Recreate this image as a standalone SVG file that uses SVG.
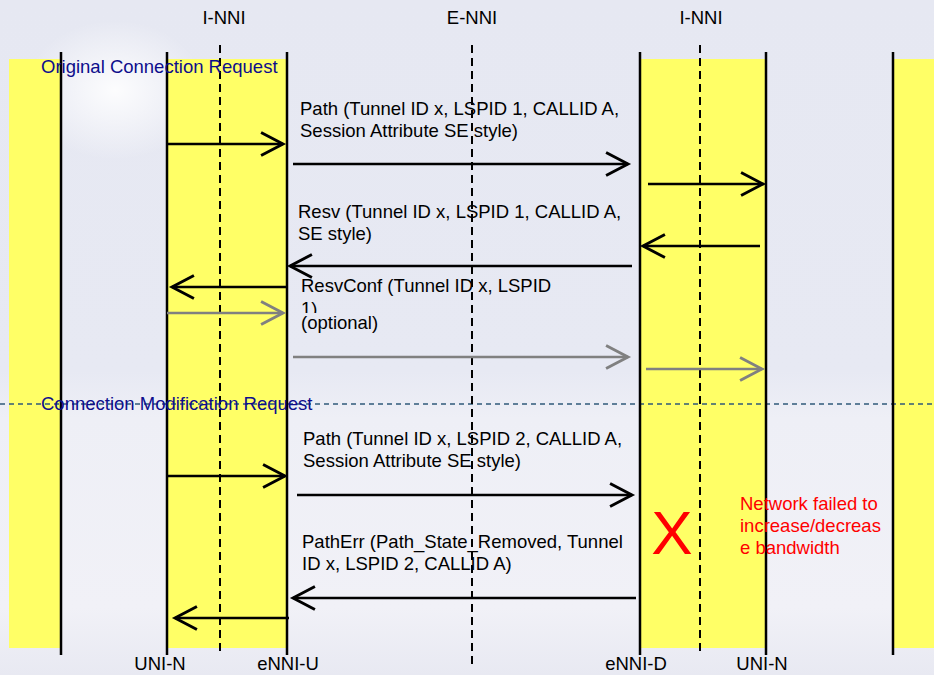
<svg xmlns="http://www.w3.org/2000/svg" width="934" height="675" viewBox="0 0 934 675">
<defs>
<style>
text{font-family:"Liberation Sans",Arial,sans-serif;font-size:18.5px;fill:#000}
.sec{fill:#0d0d8c;font-size:18.5px}
.red{fill:#ff0000}
.life{stroke:#000;stroke-width:2.5}
.dash{stroke:#000;stroke-width:2;stroke-dasharray:8,5}
.msg{stroke:#000;stroke-width:2.5;fill:none;marker-end:url(#ah)}
.opt{stroke:#808080;stroke-width:2.5;fill:none;marker-end:url(#ahg)}
.band{fill:#ffff66}
</style>
<marker id="ah" markerUnits="userSpaceOnUse" markerWidth="30" markerHeight="30" viewBox="-22 -13 26 26" refX="0" refY="0" orient="auto">
<path d="M-19,-10 L0,0 L-19,10" fill="none" stroke="#000" stroke-width="2.5"/>
</marker>
<marker id="ahg" markerUnits="userSpaceOnUse" markerWidth="30" markerHeight="30" viewBox="-22 -13 26 26" refX="0" refY="0" orient="auto">
<path d="M-19,-10 L0,0 L-19,10" fill="none" stroke="#808080" stroke-width="2.5"/>
</marker>
<linearGradient id="bg" x1="0" y1="0" x2="0" y2="1">
<stop offset="0" stop-color="#e6e8f2"/>
<stop offset="0.55" stop-color="#e7e9f3"/>
<stop offset="0.62" stop-color="#eeeff6"/>
<stop offset="0.9" stop-color="#f1f1f7"/>
<stop offset="1" stop-color="#e8e9f2"/>
</linearGradient>
<radialGradient id="glow" cx="0.5" cy="0.5" r="0.5">
<stop offset="0" stop-color="#ffffff" stop-opacity="0.9"/>
<stop offset="1" stop-color="#ffffff" stop-opacity="0"/>
</radialGradient>
<clipPath id="clip1"><rect x="290" y="290" width="300" height="23"/></clipPath>
</defs>

<rect x="0" y="0" width="934" height="675" fill="url(#bg)"/>
<ellipse cx="115" cy="90" rx="90" ry="70" fill="url(#glow)"/>

<g id="bands">
<rect class="band" x="9" y="59" width="52" height="589"/>
<rect class="band" x="167" y="59" width="120" height="589"/>
<rect class="band" x="640" y="59" width="126" height="589"/>
<rect class="band" x="893" y="59" width="41" height="589"/>
</g>

<g id="section-divider">
<line x1="0" y1="404" x2="934" y2="404" stroke="#2f5a7a" stroke-width="1.5" stroke-dasharray="5,4"/>
</g>

<g id="lifelines">
<g id="life-left-edge"><line class="life" x1="61" y1="52" x2="61" y2="655"/></g>
<g id="life-uni-n-left"><line class="life" x1="167" y1="52" x2="167" y2="655"/><text x="160" y="670" text-anchor="middle">UNI-N</text></g>
<g id="inni-left"><line class="dash" x1="220" y1="45" x2="220" y2="655"/><text x="224" y="24" text-anchor="middle">I-NNI</text></g>
<g id="life-ennI-u"><line class="life" x1="287" y1="52" x2="287" y2="655"/><text x="288" y="670" text-anchor="middle">eNNI-U</text></g>
<g id="enni"><line class="dash" x1="472" y1="45" x2="472" y2="665"/><text x="472" y="24" text-anchor="middle">E-NNI</text></g>
<g id="life-enni-d"><line class="life" x1="640" y1="52" x2="640" y2="655"/><text x="636" y="670" text-anchor="middle">eNNI-D</text></g>
<g id="inni-right"><line class="dash" x1="700" y1="45" x2="700" y2="655"/><text x="701" y="24" text-anchor="middle">I-NNI</text></g>
<g id="life-uni-n-right"><line class="life" x1="766" y1="52" x2="766" y2="655"/><text x="762" y="670" text-anchor="middle">UNI-N</text></g>
<g id="life-right-edge"><line class="life" x1="893" y1="52" x2="893" y2="655"/></g>
</g>

<g id="connectors">
<line class="msg" x1="167" y1="144" x2="283" y2="144"/>
<line class="msg" x1="293" y1="164" x2="628" y2="164"/>
<line class="msg" x1="648" y1="184" x2="763" y2="184"/>
<line class="msg" x1="760" y1="246" x2="643" y2="246"/>
<line class="msg" x1="632" y1="266" x2="290" y2="266"/>
<line class="msg" x1="287" y1="287" x2="172" y2="287"/>
<line class="opt" x1="167" y1="313" x2="283" y2="313"/>
<line class="opt" x1="293" y1="357" x2="628" y2="357"/>
<line class="opt" x1="646" y1="369" x2="762" y2="369"/>
<line class="msg" x1="167" y1="476" x2="285" y2="476"/>
<line class="msg" x1="297" y1="495" x2="632" y2="495"/>
<line class="msg" x1="636" y1="598" x2="293" y2="598"/>
<line class="msg" x1="289" y1="618" x2="175" y2="618"/>
</g>

<g id="labels">
<text class="sec" x="41" y="73">Original Connection Request</text>
<text class="sec" x="41" y="410">Connection Modification Request</text>
<text x="300" y="115">Path (Tunnel ID x, LSPID 1, CALLID A,</text>
<text x="300" y="137">Session Attribute SE style)</text>
<text x="298" y="218">Resv (Tunnel ID x, LSPID 1, CALLID A,</text>
<text x="298" y="240">SE style)</text>
<text x="301" y="292">ResvConf (Tunnel ID x, LSPID</text>
<text x="301" y="315" clip-path="url(#clip1)">1)</text>
<text x="301" y="329">(optional)</text>
<text x="303" y="445">Path (Tunnel ID x, LSPID 2, CALLID A,</text>
<text x="303" y="467">Session Attribute SE style)</text>
<text x="302" y="548">PathErr (Path_State_Removed, Tunnel</text>
<text x="302" y="570">ID x, LSPID 2, CALLID A)</text>
</g>

<g id="failure">
<text class="red" x="672" y="554" text-anchor="middle" style="font-size:62px">X</text>
<text class="red" x="740" y="510">Network failed to</text>
<text class="red" x="740" y="532">increase/decreas</text>
<text class="red" x="740" y="554">e bandwidth</text>
</g>
</svg>
